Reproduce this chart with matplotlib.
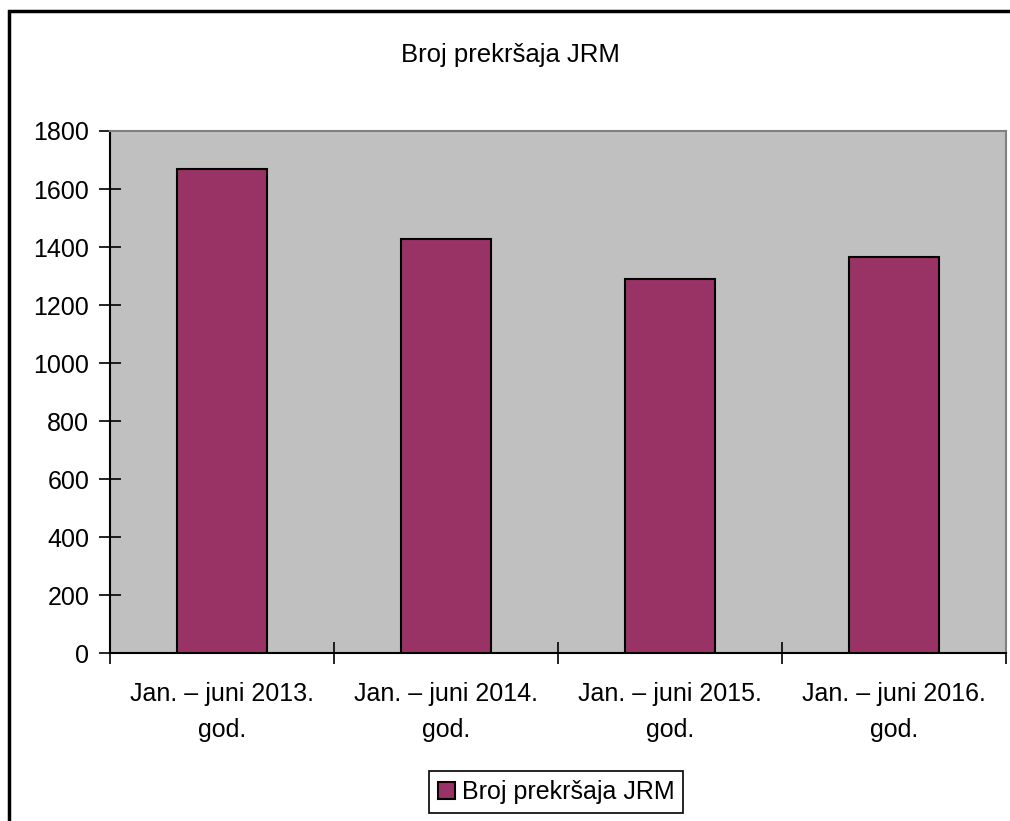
import matplotlib.pyplot as plt
from matplotlib.patches import Rectangle

plt.rcParams['font.family'] = ['Liberation Sans', 'DejaVu Sans']

categories = ['Jan. – juni 2013.\ngod.', 'Jan. – juni 2014.\ngod.',
              'Jan. – juni 2015.\ngod.', 'Jan. – juni 2016.\ngod.']
values = [1668, 1427, 1290, 1366]
series_name = 'Broj prekršaja JRM'
title = 'Broj prekršaja JRM'

fig = plt.figure(figsize=(10.1, 8.21), dpi=100)
fig.patch.set_facecolor('white')
ax = fig.add_axes([110 / 1010, 1 - 653 / 821, 896 / 1010, 522 / 821])
ax.set_facecolor('#c0c0c0')

x = list(range(len(categories)))
ax.bar(x, values, width=0.406, color='#993366', edgecolor='black',
       linewidth=1.5, label=series_name, zorder=3)

ax.set_xlim(-0.5, len(categories) - 0.5)
ax.set_ylim(0, 1800)
ax.set_yticks(range(0, 1801, 200))
ax.set_xticks(x)
ax.set_xticklabels(categories, fontsize=18, linespacing=1.6)
ax.set_xticks([i - 0.5 for i in range(len(categories) + 1)], minor=True)
ax.tick_params(axis='x', which='major', length=0, pad=21)
ax.tick_params(axis='x', which='minor', direction='inout', length=16,
               width=1.2)
ax.tick_params(axis='y', direction='inout', length=16, width=1.2,
               labelsize=18, pad=7)

for s in ['top', 'right']:
    ax.spines[s].set_color('#808080')
    ax.spines[s].set_linewidth(1.5)
for s in ['left', 'bottom']:
    ax.spines[s].set_color('black')
    ax.spines[s].set_linewidth(1.5)

fig.text(510 / 1010, 1 - 55 / 821, title, ha='center', va='center',
         fontsize=18.5)

leg = fig.legend(loc='center', bbox_to_anchor=(556 / 1010, 1 - 792 / 821),
                 fontsize=18, frameon=True, fancybox=False, framealpha=1,
                 handlelength=0.7, handleheight=0.7, handletextpad=0.25,
                 borderpad=0.35, borderaxespad=0)
leg.get_frame().set_edgecolor('black')
leg.get_frame().set_linewidth(1.2)

fig.patches.append(Rectangle((9 / 1010, -0.05), 1.1, 1 - 11 / 821 + 0.05,
                             transform=fig.transFigure, fill=False,
                             edgecolor='black', linewidth=2.5))

fig.savefig('out.png', dpi=100)
plt.close(fig)
